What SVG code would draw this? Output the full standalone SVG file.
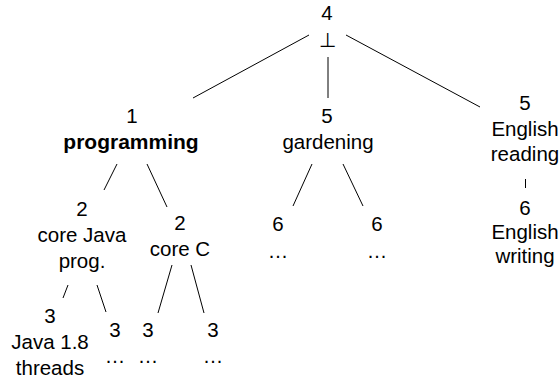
<svg xmlns="http://www.w3.org/2000/svg" width="560" height="383" viewBox="0 0 560 383">
  <style>
    text { font-family: "Liberation Sans", Arial, sans-serif; font-size: 20.5px; fill: #000; text-anchor: middle; }
    .b { font-weight: bold; font-size: 21px; }
    .sym { font-family: "DejaVu Sans", sans-serif; font-size: 20px; }
    .edges line { stroke: #000; stroke-width: 1; fill: none; }
  </style>
  <rect width="560" height="383" fill="#fff"/>

  <!-- tree edges -->
  <g id="edges" class="edges">
    <line x1="309" y1="35" x2="193" y2="98"/>
    <line x1="328" y1="57" x2="328" y2="98"/>
    <line x1="346" y1="35" x2="480" y2="107"/>
    <line x1="117" y1="164" x2="104" y2="190"/>
    <line x1="147" y1="164" x2="167" y2="207"/>
    <line x1="312" y1="164" x2="293" y2="206"/>
    <line x1="343" y1="164" x2="363" y2="206"/>
    <line x1="525.5" y1="179" x2="525.5" y2="188"/>
    <line x1="68" y1="285" x2="63" y2="298"/>
    <line x1="97" y1="285" x2="106" y2="312"/>
    <line x1="172" y1="265" x2="158" y2="313"/>
    <line x1="191" y1="265" x2="204" y2="313"/>
  </g>

  <g id="root">
    <text x="327" y="20">4</text>
    <text class="sym" x="327.5" y="46.5">⊥</text>
  </g>

  <g id="n-programming">
    <text x="132" y="123">1</text>
    <text class="b" x="131" y="149">programming</text>
  </g>

  <g id="n-gardening">
    <text x="327" y="123">5</text>
    <text x="328" y="149">gardening</text>
  </g>

  <g id="n-reading">
    <text x="525" y="110">5</text>
    <text x="525" y="136">English</text>
    <text x="525" y="161">reading</text>
  </g>

  <g id="n-writing">
    <text x="525" y="215">6</text>
    <text x="525" y="239">English</text>
    <text x="525" y="263">writing</text>
  </g>

  <g id="n-java">
    <text x="82" y="216">2</text>
    <text x="82" y="242">core Java</text>
    <text x="82" y="268">prog.</text>
  </g>

  <g id="n-c">
    <text x="180" y="230">2</text>
    <text x="180" y="256">core C</text>
  </g>

  <g id="n-garden-a">
    <text x="278" y="231">6</text>
    <text x="278" y="258">…</text>
  </g>

  <g id="n-garden-b">
    <text x="377" y="231">6</text>
    <text x="377" y="258">…</text>
  </g>

  <g id="n-threads">
    <text x="50" y="323">3</text>
    <text x="50" y="349">Java 1.8</text>
    <text x="50" y="375">threads</text>
  </g>

  <g id="n-java-more">
    <text x="115" y="337">3</text>
    <text x="115" y="363">…</text>
  </g>

  <g id="n-c-a">
    <text x="148" y="337">3</text>
    <text x="148" y="363">…</text>
  </g>

  <g id="n-c-b">
    <text x="213" y="337">3</text>
    <text x="213" y="363">…</text>
  </g>
</svg>
